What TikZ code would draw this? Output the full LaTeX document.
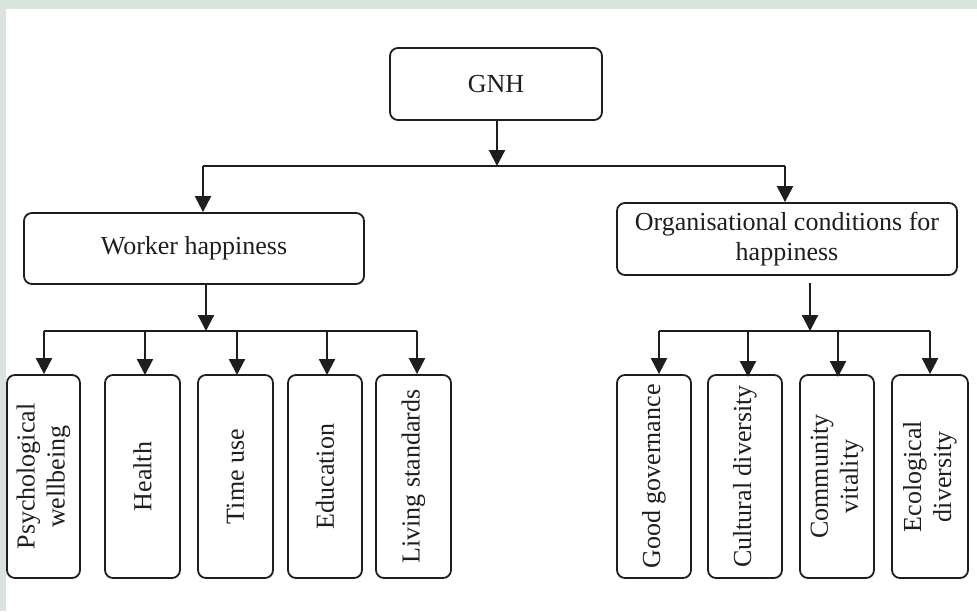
\documentclass[tikz,border=0pt]{standalone}
\usepackage{fontspec}
\setmainfont{Liberation Serif}
\usetikzlibrary{arrows.meta}
\definecolor{bgband}{HTML}{D9E4DD}
\definecolor{ink}{HTML}{1E1E1E}
\begin{document}
\begin{tikzpicture}[x=1pt,y=-1pt,
  boxstyle/.style={draw=ink,line width=1.8pt,rounded corners=8pt,inner sep=0pt,align=center,
    font=\fontsize{26}{30}\selectfont,text=ink},
  leafstyle/.style={boxstyle,rotate=90,minimum width=203pt},
  conn/.style={draw=ink,line width=2.2pt},
  arr/.style={conn,-{Triangle[width=16pt,length=16pt]}}]
\useasboundingbox (0,0) rectangle (977,611);
\fill[bgband] (0,0) rectangle (977,9);
\fill[bgband] (0,0) rectangle (6,611);
% top
\node[boxstyle,minimum width=212pt,minimum height=72pt] (gnh) at (496,84) {GNH};
\node[boxstyle,minimum width=340pt,minimum height=71pt] (wh) at (194,248.5) {Worker happiness};
\node[boxstyle,minimum width=340pt,minimum height=72pt] (org) at (787,239) {Organisational conditions for\\happiness};
% left leaves
\node[leafstyle,minimum height=73pt] (l1) at (43.5,476.5) {Psychological\\wellbeing};
\node[leafstyle,minimum height=75pt] (l2) at (142.5,476.5) {Health};
\node[leafstyle,minimum height=75pt] (l3) at (235.5,476.5) {Time use};
\node[leafstyle,minimum height=74pt] (l4) at (325,476.5) {Education};
\node[leafstyle,minimum height=75pt] (l5) at (413.5,476.5) {Living standards};
% right leaves
\node[leafstyle,minimum height=74pt] (r1) at (654,476.5) {Good governance};
\node[leafstyle,minimum height=74pt] (r2) at (745,476.5) {Cultural diversity};
\node[leafstyle,minimum height=74pt] (r3) at (837,476.5) {Community\\vitality};
\node[leafstyle,minimum height=76pt] (r4) at (930,476.5) {Ecological\\diversity};
% bus coordinates
\coordinate (gb) at (497,166);
\coordinate (gl) at (203,166);
\coordinate (gr) at (785,166);
\coordinate (wb) at (206,331);
\coordinate (wl) at (44,331);
\coordinate (wr) at (417,331);
\coordinate (ob) at (810,331);
\coordinate (ol) at (659,331);
\coordinate (or) at (930,331);
% GNH level
\draw[arr] (gnh.south -| gb) -- (gb);
\draw[conn] (gl) -- (gr);
\draw[arr] (gl) -- (gl |- wh.north);
\draw[arr] (gr) -- (gr |- org.north);
% worker level
\draw[arr] (wh.south -| wb) -- (wb);
\draw[conn] (wl) -- (wr);
\draw[arr] (wl) -- (wl |- l1.east);
\draw[arr] (wb -| 145,0) -- (145,375);
\draw[arr] (wb -| 237,0) -- (237,375);
\draw[arr] (wb -| 327,0) -- (327,375);
\draw[arr] (wr) -- (wr |- l5.east);
% org level
\draw[arr] (810,283) -- (ob);
\draw[conn] (ol) -- (or);
\draw[arr] (ol) -- (ol |- r1.east);
\draw[arr] (ob -| 748,0) -- (748,377);
\draw[arr] (ob -| 838,0) -- (838,377);
\draw[arr] (or) -- (or |- r4.east);
\end{tikzpicture}
\end{document}
